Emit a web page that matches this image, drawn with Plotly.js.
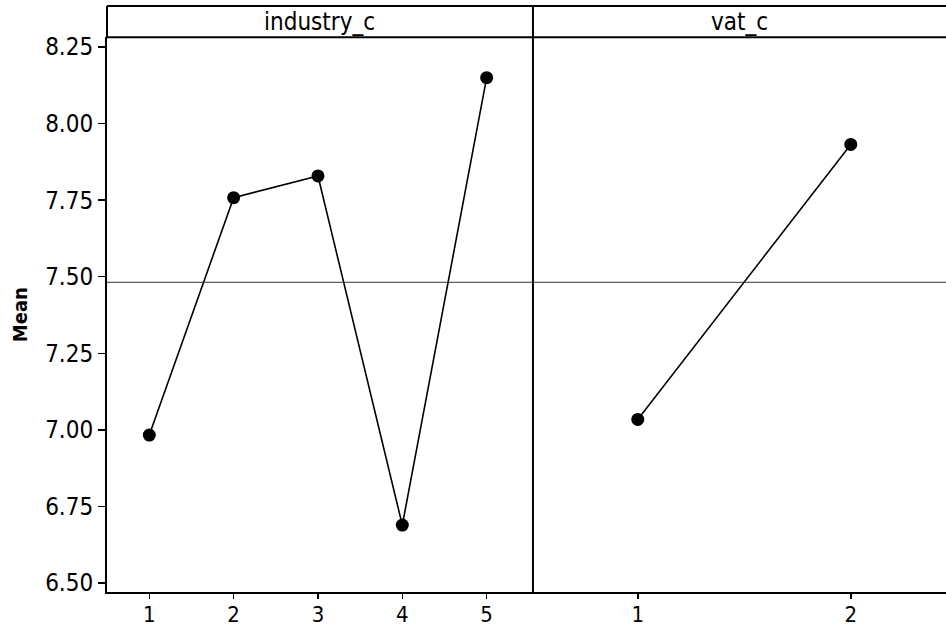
<!DOCTYPE html>
<html>
<head>
<meta charset="utf-8">
<script src="https://cdn.plot.ly/plotly-3.0.1.min.js"></script>
<style>html,body{margin:0;padding:0;background:#fff;}#chart{width:946px;height:628px;}</style>
</head>
<body>
<div id="chart"></div>
<script>
// Data (Main effects plot, mean response)
const industryLevels = [1, 2, 3, 4, 5];
const industryMeans = [6.983, 7.758, 7.829, 6.689, 8.150];
const vatLevels = [1, 2];
const vatMeans = [7.034, 7.932];
const panelTitles = ["industry_c", "vat_c"];
const yTickVals = [6.50, 6.75, 7.00, 7.25, 7.50, 7.75, 8.00, 8.25];

const grandMean = industryMeans.reduce((a, b) => a + b, 0) / industryMeans.length;

const FONT = "'DejaVu Sans Condensed', 'DejaVu Sans', sans-serif";
const split = 0.5077;
const yTop = 0.9466;

const mk = {color: '#000', size: 13, symbol: 'circle'};
const ln = {color: '#000', width: 1.6};

const traces = [
  {x: industryLevels, y: industryMeans, xaxis: 'x', yaxis: 'y', mode: 'lines+markers',
   marker: mk, line: ln, hoverinfo: 'skip', showlegend: false},
  {x: vatLevels, y: vatMeans, xaxis: 'x2', yaxis: 'y', mode: 'lines+markers',
   marker: mk, line: ln, hoverinfo: 'skip', showlegend: false}
];

const axisCommon = {
  showgrid: false, zeroline: false, showline: true, linecolor: '#000', linewidth: 2,
  ticks: 'outside', ticklen: 6, tickwidth: 1.5, tickcolor: '#000',
  tickfont: {family: FONT, size: 24, color: '#000'}, fixedrange: true
};
const xTickFont = {family: FONT, size: 22, color: '#000'};

const layout = {
  width: 946, height: 628,
  margin: {l: 107, r: 0, t: 6, b: 36, pad: 0},
  paper_bgcolor: '#fff', plot_bgcolor: '#fff',
  showlegend: false,
  xaxis: Object.assign({}, axisCommon, {
    domain: [0, split], range: [0.4985, 5.549], tickvals: industryLevels,
    anchor: 'y', ticklen: 5, tickfont: xTickFont, ticklabelstandoff: -3
  }),
  xaxis2: Object.assign({}, axisCommon, {
    domain: [split, 1], range: [0.508, 2.447], tickvals: vatLevels,
    anchor: 'y', ticklen: 5, tickfont: xTickFont, ticklabelstandoff: -3
  }),
  yaxis: Object.assign({}, axisCommon, {
    domain: [0, yTop], range: [6.4706, 8.2817], tickvals: yTickVals,
    tickformat: '.2f', ticklen: 7, anchor: 'x',
    title: {text: '<b>Mean</b>', font: {family: FONT, size: 20, color: '#000'}, standoff: 12}
  }),
  shapes: [
    // grand mean reference line
    {type: 'line', xref: 'paper', yref: 'y', x0: 0, x1: 1, y0: grandMean, y1: grandMean,
     line: {color: '#333', width: 1}},
    // strip top line
    {type: 'line', xref: 'paper', yref: 'paper', x0: 0, x1: 1, y0: 1, y1: 1,
     line: {color: '#000', width: 2}},
    // strip bottom line
    {type: 'line', xref: 'paper', yref: 'paper', x0: 0, x1: 1, y0: yTop, y1: yTop,
     line: {color: '#000', width: 2}},
    // left border in strip
    {type: 'line', xref: 'paper', yref: 'paper', x0: 0, x1: 0, y0: yTop, y1: 1,
     line: {color: '#000', width: 2}},
    // panel divider
    {type: 'line', xref: 'paper', yref: 'paper', x0: split, x1: split, y0: 0, y1: 1,
     line: {color: '#000', width: 2}}
  ],
  annotations: [
    {text: panelTitles[0], xref: 'paper', yref: 'paper', x: split / 2, y: (1 + yTop) / 2,
     xanchor: 'center', yanchor: 'middle', showarrow: false,
     font: {family: FONT, size: 24, color: '#000'}},
    {text: panelTitles[1], xref: 'paper', yref: 'paper', x: (1 + split) / 2, y: (1 + yTop) / 2,
     xanchor: 'center', yanchor: 'middle', showarrow: false,
     font: {family: FONT, size: 24, color: '#000'}}
  ]
};

Plotly.newPlot('chart', traces, layout, {staticPlot: true, displayModeBar: false});
</script>
</body>
</html>
